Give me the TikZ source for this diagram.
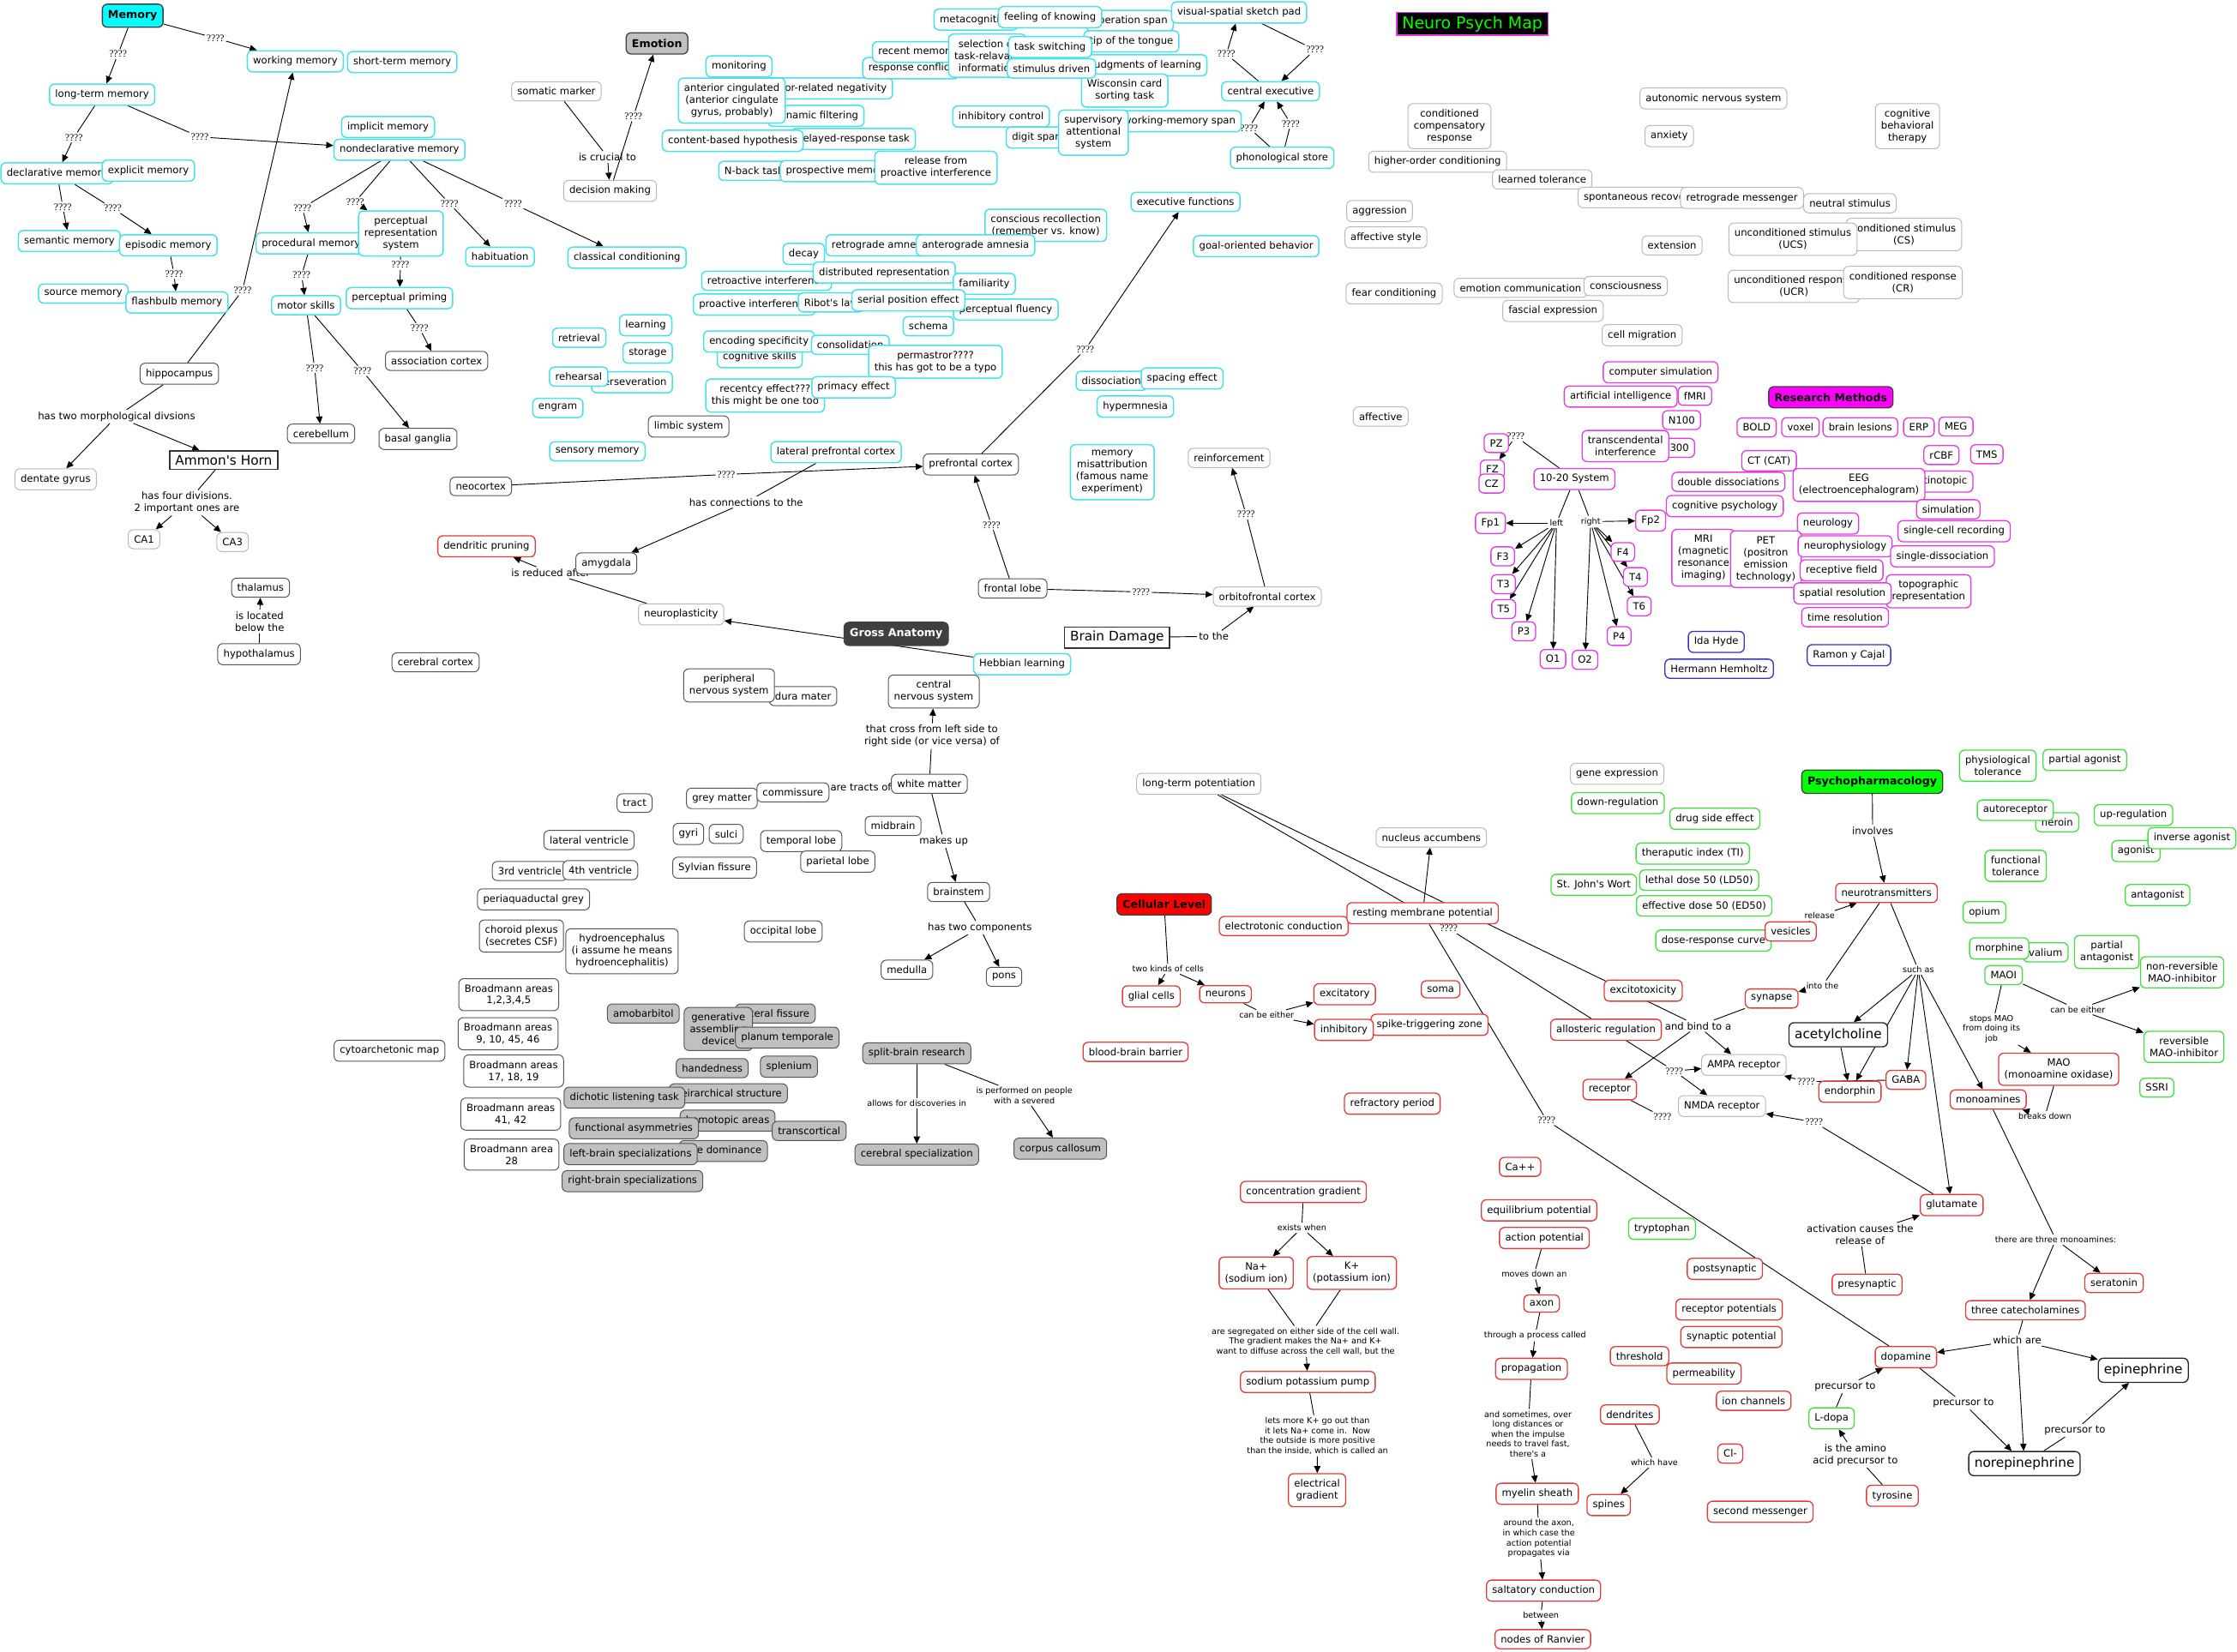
\documentclass[tikz,border=0pt]{standalone}
\usepackage{fontspec}
\usetikzlibrary{arrows.meta,backgrounds}
\newfontfamily\dvf{DejaVu Sans}
\newfontfamily\qfam{Liberation Serif}
\newcommand\nf{\dvf\fontsize{7}{8.4}\selectfont}
\newcommand\smallf{\dvf\fontsize{5.8}{7}\selectfont}
\newcommand\hf{\dvf\bfseries\fontsize{7.6}{9}\selectfont}
\newcommand\bigf{\dvf\fontsize{9.2}{11}\selectfont}
\newcommand\qfs{\qfam\fontsize{7}{8}\selectfont}
\newcommand\titlef{\dvf\fontsize{11.4}{13}\selectfont}
\definecolor{cyc}{RGB}{70,225,235}
\definecolor{lgc}{RGB}{185,185,185}
\definecolor{dkc}{RGB}{85,85,85}
\definecolor{rdc}{RGB}{225,60,60}
\definecolor{grc}{RGB}{70,220,70}
\definecolor{mgc}{RGB}{225,60,225}
\definecolor{blc}{RGB}{50,50,200}
\definecolor{gfc}{RGB}{192,192,192}
\definecolor{hcyan}{RGB}{0,255,255}
\definecolor{hmag}{RGB}{255,0,255}
\definecolor{hgreen}{RGB}{0,255,0}
\definecolor{hred}{RGB}{255,0,0}
\definecolor{hdark}{RGB}{64,64,64}
\newcommand\mylink[3]{\draw[lnk] (#1) -- (#2); \draw[arr] (#2) -- (#3);}
\newcommand\myarr[2]{\draw[arr] (#1) -- (#2);}
\newcommand\myline[2]{\draw[lnk] (#1) -- (#2);}
\tikzset{
 nbox/.style={draw, rounded corners=3.5pt, fill=white, align=center, inner xsep=4pt, inner ysep=4pt, font=\nf, line width=0.6pt},
 ncy/.style={nbox, draw=cyc, line width=0.9pt},
 ngy/.style={nbox, draw=lgc},
 ndk/.style={nbox, draw=dkc},
 nrd/.style={nbox, draw=rdc, line width=0.8pt},
 ngr/.style={nbox, draw=grc, line width=0.8pt},
 nmg/.style={nbox, draw=mgc, line width=0.8pt},
 nbl/.style={nbox, draw=blc, line width=0.8pt},
 ngf/.style={nbox, draw=dkc, fill=gfc},
 nhd/.style={nbox, font=\hf, draw=black!75, line width=0.8pt, inner ysep=4.5pt},
 nsq/.style={nbox, rounded corners=0pt, draw=black!80, line width=1pt, font=\bigf, inner ysep=3pt},
 nbig/.style={nbox, font=\bigf, draw=black!85, line width=0.8pt},
 nlb/.style={font=\nf, align=center, inner sep=1.2pt},
 nsl/.style={font=\smallf, align=center, inner sep=1.2pt},
 nq/.style={font=\qfs, inner sep=1pt},
 arr/.style={-{Triangle[length=5pt,width=4.5pt]}, line width=0.55pt},
 lnk/.style={line width=0.55pt},
}
\begin{document}
\begin{tikzpicture}[x=1pt,y=-1pt]
\path[use as bounding box] (0,0) rectangle (1568,1158);
% ---------------- labels ----------------
\node[nq] (q1) at (151,26.7) {????};
\node[nq] (q2) at (82.7,38) {????};
\node[nq] (q3) at (51.8,96.4) {????};
\node[nq] (q4) at (140,96) {????};
\node[nq] (q5) at (44,145) {????};
\node[nq] (q6) at (79,146) {????};
\node[nq] (q7) at (122,192) {????};
\node[nq] (q8) at (170,203.5) {????};
\node[nq] (q9) at (212,145.7) {????};
\node[nq] (q10) at (249,141.5) {????};
\node[nq] (q11) at (315,142.7) {????};
\node[nq] (q12) at (359.6,142.7) {????};
\node[nq] (q13) at (211.4,193) {????};
\node[nq] (q14) at (280.7,185.8) {????};
\node[nq] (q15) at (294,230) {????};
\node[nq] (q16) at (220.5,258) {????};
\node[nq] (q17) at (254,260) {????};
\node[nlb] (lmorph) at (81.7,292) {has two morphological divsions};
\node[nlb] (lfour) at (131,352.5) {has four divisions.\\2 important ones are};
\node[nlb] (lloc) at (182,435.7) {is located\\below the};
\node[nlb] (lcru) at (425.8,110) {is crucial to};
\node[nq] (q18) at (444,81.5) {????};
\node[nq] (q19) at (859.6,37.9) {????};
\node[nq] (q20) at (921.7,34.9) {????};
\node[nq] (q21) at (875.5,89.7) {????};
\node[nq] (q22) at (904.7,86.7) {????};
\node[nq] (q23) at (760.7,245) {????};
\node[nq] (q24) at (509,332.6) {????};
\node[nlb] (lconn) at (523,352) {has connections to the};
\node[nq] (q25) at (695,368) {????};
\node[nq] (q26) at (799.7,415) {????};
\node[nq] (q27) at (873.4,360.5) {????};
\node[nlb] (ltothe) at (850.8,446.1) {to the};
\node[nlb] (lred) at (386,401.5) {is reduced after};
\node[nlb] (lcross) at (653.2,516) {that cross from left side to\\right side (or vice versa) of};
\node[nlb] (ltract) at (603.4,552) {are tracts of};
\node[nlb] (lmakes) at (661.5,589.6) {makes up};
\node[nlb] (ltwo) at (686.8,650.4) {has two components};
\node[nsl] (lallow) at (642.6,773.7) {allows for discoveries in};
\node[nsl] (lperf) at (718,768) {is performed on people\\with a severed};
\node[nsl] (lkinds) at (818.7,679.3) {two kinds of cells};
\node[nsl] (leither) at (887.8,711.5) {can be either};
\node[nq] (q28) at (1015.5,651) {????};
\node[nq] (q29) at (1173.6,750.8) {????};
\node[nq] (q30) at (1084,785.3) {????};
\node[nq] (q31) at (1165.3,782.8) {????};
\node[nq] (q32) at (1265.9,758.3) {????};
\node[nq] (q33) at (1271.5,786.6) {????};
\node[nq] (q34) at (1062.4,306) {????};
\node[nsl] (lleft) at (1091,366.7) {left};
\node[nsl] (lright) at (1115,365.7) {right};
\node[nlb] (linv) at (1312.6,582.4) {involves};
\node[nsl] (lrel) at (1275.4,642) {release};
\node[nsl] (linto) at (1277.4,691) {into the};
\node[nlb] (lbind) at (1190.3,719.2) {and bind to a};
\node[nsl] (lsuch) at (1344.6,679.8) {such as};
\node[nlb] (lact) at (1303.8,865.4) {activation causes the\\release of};
\node[nsl] (lthree) at (1441,869.1) {there are three monoamines:};
\node[nlb] (lwhich) at (1413.9,939.5) {which are};
\node[nlb] (lpre1) at (1376.2,983.7) {precursor to};
\node[nlb] (lpre2) at (1454.4,1002.8) {precursor to};
\node[nlb] (lpre3) at (1293.3,972) {precursor to};
\node[nlb] (lamino) at (1300.5,1019.9) {is the amino\\acid precursor to};
\node[nsl] (lcbe) at (1456.4,707.7) {can be either};
\node[nsl] (lstops) at (1395.9,721.4) {stops MAO\\from doing its\\job};
\node[nsl] (lbreaks) at (1433.3,782.6) {breaks down};
\node[nsl] (lexists) at (912.5,860.7) {exists when};
\node[nsl] (lseg) at (915.1,940.3) {are segregated on either side of the cell wall.\\The gradient makes the Na+ and K+\\want to diffuse across the cell wall, but the};
\node[nsl] (llets) at (923.5,1006.5) {lets more K+ go out than\\it lets Na+ come in.\ \ Now\\the outside is more positive\\than the inside, which is called an};
\node[nsl] (lmoves) at (1075.4,893.2) {moves down an};
\node[nsl] (lthrough) at (1076,936.3) {through a process called};
\node[nsl] (lsome) at (1071,1005.3) {and sometimes, over\\long distances or\\when the impulse\\needs to travel fast,\\there's a};
\node[nsl] (laround) at (1078.6,1078.6) {around the axon,\\in which case the\\action potential\\propagates via};
\node[nsl] (lbetween) at (1080.1,1132.2) {between};
\node[nsl] (lhave) at (1159.6,1025.3) {which have};
% ---------------- title ----------------
\node[nbox, rounded corners=0pt, fill=black, draw=mgc, line width=1pt, text=hgreen, font=\titlef, inner ysep=2.5pt] (title) at (1032,16.7) {Neuro Psych Map};
% ---------------- memory ----------------
\node[nhd, fill=hcyan] (mem) at (93,11) {Memory};
\node[ncy] (wm) at (207,43) {working memory};
\node[ncy] (stm) at (282,43.5) {short-term memory};
\node[ncy] (ltm) at (71.6,66.3) {long-term memory};
\node[ncy] (imp) at (272,89) {implicit memory};
\node[ncy] (nd) at (280,105) {nondeclarative memory};
\node[ncy] (decl) at (40,121.5) {declarative memory};
\node[ncy] (expl) at (104,119.6) {explicit memory};
\node[ncy] (sem) at (48.6,169) {semantic memory};
\node[ncy] (epis) at (118,172) {episodic memory};
\node[ncy] (src) at (58.4,205.8) {source memory};
\node[ncy] (flash) at (124,212) {flashbulb memory};
\node[ncy] (proc) at (218,170.6) {procedural memory};
\node[ncy] (prs) at (281,163.7) {perceptual\\representation\\system};
\node[ncy] (hab) at (350.5,180) {habituation};
\node[ncy] (cc) at (439.5,180.6) {classical conditioning};
\node[ncy] (motor) at (214.5,214) {motor skills};
\node[ncy] (pp) at (280,209) {perceptual priming};
\node[ndk] (assoc) at (306,253) {association cortex};
\node[ndk] (hippo) at (125.7,262) {hippocampus};
\node[ndk] (cereb) at (225,304) {cerebellum};
\node[ndk] (basal) at (293,307.7) {basal ganglia};
\node[ngy] (dent) at (39,336) {dentate gyrus};
\node[nsq] (ammon) at (156.8,322.6) {Ammon's Horn};
\node[ngy] (ca1) at (101,378) {CA1};
\node[ngy] (ca3) at (163,380) {CA3};
\node[ndk] (thal) at (182.6,412) {thalamus};
\node[ndk] (hypo) at (181.6,458.6) {hypothalamus};
\node[ndk] (cctx) at (305.3,464.3) {cerebral cortex};
% ---------------- emotion ----------------
\node[nhd, fill=gfc] (emo) at (460.5,30.4) {Emotion};
\node[ngy] (som) at (390,64) {somatic marker};
\node[ngy] (dec) at (427.6,133.8) {decision making};
% ---------------- executive cluster ----------------
\node[ncy] (mon) at (518,46.6) {monitoring};
\node[ncy] (ern) at (581,62) {error-related negativity};
\node[ncy] (dynf) at (572,81.2) {dynamic filtering};
\node[ncy] (acc) at (513,70.5) {anterior cingulated\\(anterior cingulate\\gyrus, probably)};
\node[ncy] (drt) at (598,97.4) {delayed-response task};
\node[ncy] (cbh) at (513.6,98.7) {content-based hypothesis};
\node[ncy] (nback) at (528.5,119.8) {N-back task};
\node[ncy] (prosp) at (587,120) {prospective memory};
\node[ncy] (rel) at (656,117.6) {release from\\proactive interference};
\node[ncy] (resp) at (638.5,47.8) {response conflict};
\node[ncy] (recm) at (642.5,36.4) {recent memory};
\node[ncy] (meta) at (684,13.7) {metacognition};
\node[ncy] (opspan) at (792,14.7) {operation span};
\node[ncy] (tip) at (793,29) {tip of the tongue};
\node[ncy] (jol) at (803.5,45.8) {judgments of learning};
\node[ncy] (wcst) at (788.3,63.5) {Wisconsin card\\sorting task};
\node[ncy] (sel) at (692,39) {selection of\\task-relavant\\information};
\node[ncy] (fok) at (736,12) {feeling of knowing};
\node[ncy] (tsw) at (736,33) {task switching};
\node[ncy] (stim) at (737,48) {stimulus driven};
\node[ncy] (wmspan) at (826.7,85) {working-memory span};
\node[ncy] (inh) at (701.7,81.7) {inhibitory control};
\node[ncy] (digit) at (726.6,96.4) {digit span};
\node[ncy] (sas) at (766.4,93) {supervisory\\attentional\\system};
\node[ncy] (vs) at (868.5,8.7) {visual-spatial sketch pad};
\node[ncy] (ce) at (890.6,64) {central executive};
\node[ncy] (ps) at (898.7,110.6) {phonological store};
% ---------------- memory misc ----------------
\node[ncy] (consc) at (733,158) {conscious recollection\\(remember vs. know)};
\node[ncy] (decay) at (563.4,178) {decay};
\node[ncy] (retro) at (617.5,172) {retrograde amnesia};
\node[ncy] (antero) at (683.8,172) {anterograde amnesia};
\node[ncy] (retint) at (537.3,196.8) {retroactive interference};
\node[ncy] (dist) at (619.8,191) {distributed representation};
\node[ncy] (fam) at (689.9,199) {familiarity};
\node[ncy] (proint) at (528.8,213.5) {proactive interference};
\node[ncy] (ribot) at (582.6,212) {Ribot's law};
\node[ncy] (pflu) at (705,217) {perceptual fluency};
\node[ncy] (serial) at (636.7,210.5) {serial position effect};
\node[ncy] (schema) at (650.7,228.7) {schema};
\node[ncy] (cogsk) at (532.5,250.4) {cognitive skills};
\node[ncy] (encsp) at (532,239.4) {encoding specificity};
\node[ncy] (consol) at (596,241.7) {consolidation};
\node[ncy] (perma) at (655.7,253.6) {permastror????\\this has got to be a typo};
\node[ncy] (recen) at (536.3,277.3) {recentcy effect???\\this might be one too};
\node[ncy] (prim) at (598.3,271.5) {primacy effect};
\node[ncy] (learn) at (452.6,228) {learning};
\node[ncy] (retr) at (406,236.7) {retrieval};
\node[ncy] (stor) at (454,247.4) {storage};
\node[ncy] (pers) at (443,268) {perseveration};
\node[ncy] (reh) at (405.6,264) {rehearsal};
\node[ncy] (engr) at (391,286) {engram};
\node[ncy] (sens) at (418.7,316.4) {sensory memory};
\node[ncy] (lpfc) at (586,317) {lateral prefrontal cortex};
\node[ncy] (ef) at (831,141.5) {executive functions};
\node[ncy] (gob) at (880.5,172.6) {goal-oriented behavior};
\node[ncy] (diss) at (779,267) {dissociation};
\node[ncy] (spac) at (828.6,265.3) {spacing effect};
\node[ncy] (hyper) at (795.8,285) {hypermnesia};
\node[ncy] (mmis) at (779.6,331) {memory\\misattribution\\(famous name\\experiment)};
\node[ncy] (hebb) at (716.4,465.6) {Hebbian learning};
\node[ndk] (limb) at (482.7,299) {limbic system};
\node[ndk] (neo) at (337,341) {neocortex};
\node[ndk] (pfc) at (680.5,325.6) {prefrontal cortex};
\node[ndk] (amyg) at (425,395) {amygdala};
\node[ndk] (front) at (709.8,412.5) {frontal lobe};
\node[nsq] (bd) at (783,447) {Brain Damage};
\node[ngy] (reinf) at (861.5,321) {reinforcement};
\node[ngy] (ofc) at (888.3,418.2) {orbitofrontal cortex};
\node[ngy] (np) at (477.4,430.7) {neuroplasticity};
\node[nrd] (dp) at (341,383) {dendritic pruning};
% ---------------- top right gray ----------------
\node[ngy] (ccr) at (1016,88.4) {conditioned\\compensatory\\response};
\node[ngy] (hoc) at (1007.7,113.4) {higher-order conditioning};
\node[ngy] (ltol) at (1081,125.8) {learned tolerance};
\node[ngy] (spont) at (1149,138.5) {spontaneous recovery};
\node[ngy] (rmess) at (1221,138.8) {retrograde messenger};
\node[ngy] (neut) at (1296.7,142.5) {neutral stimulus};
\node[ngy] (ans) at (1201,69) {autonomic nervous system};
\node[ngy] (anx) at (1170,95.4) {anxiety};
\node[ngy] (cbt) at (1337,88.4) {cognitive\\behavioral\\therapy};
\node[ngy] (aggr) at (967,148) {aggression};
\node[ngy] (affst) at (971.4,166.4) {affective style};
\node[ngy] (ext) at (1172,172) {extension};
\node[ngy] (cs) at (1334.5,164.4) {conditioned stimulus\\(CS)};
\node[ngy] (ucs) at (1256.7,167.7) {unconditioned stimulus\\(UCS)};
\node[ngy] (ucr) at (1257.4,200.8) {unconditioned response\\(UCR)};
\node[ngy] (cr) at (1333.8,198) {conditioned response\\(CR)};
\node[ngy] (fear) at (977.2,205.8) {fear conditioning};
\node[ngy] (ecom) at (1065.8,201.8) {emotion communication};
\node[ngy] (consn) at (1139.5,200.5) {consciousness};
\node[ngy] (fasc) at (1088.5,218) {fascial expression};
\node[ngy] (cmig) at (1151,235) {cell migration};
\node[ngy] (affv) at (967.8,292) {affective};
% ---------------- research methods ----------------
\node[nmg] (csim) at (1164,261) {computer simulation};
\node[nmg] (ai) at (1136,278) {artificial intelligence};
\node[nmg] (fmri) at (1188,277.5) {fMRI};
\node[nhd, fill=hmag] (rm) at (1283.3,278.5) {Research Methods};
\node[nmg] (n100) at (1178.7,294.5) {N100};
\node[nmg] (bold) at (1231.3,299.7) {BOLD};
\node[nmg] (voxel) at (1262,299.5) {voxel};
\node[nmg] (blez) at (1304,299.5) {brain lesions};
\node[nmg] (erp) at (1345,299.5) {ERP};
\node[nmg] (meg) at (1371,299) {MEG};
\node[nmg] (p300) at (1175,314) {P300};
\node[nmg] (trans) at (1139.3,312.7) {transcendental\\interference};
\node[nmg] (rcbf) at (1360.8,319) {rCBF};
\node[nmg] (tms) at (1392.6,318.4) {TMS};
\node[nmg] (ct) at (1240,323) {CT (CAT)};
\node[nmg] (ddis) at (1211.5,337.8) {double dissociations};
\node[nmg] (retin) at (1360,337.6) {retinotopic};
\node[nmg] (eeg) at (1303,340) {EEG\\(electroencephalogram)};
\node[nmg] (cogp) at (1209,354.8) {cognitive psychology};
\node[nmg] (simu) at (1365.6,357) {simulation};
\node[nmg] (neur2) at (1281.3,367) {neurology};
\node[nmg] (scr) at (1369.7,372.4) {single-cell recording};
\node[nmg] (mri) at (1194,391) {MRI\\(magnetic\\resonance\\imaging)};
\node[nmg] (pet) at (1237.7,392) {PET\\(positron\\emission\\technology)};
\node[nmg] (nphys) at (1293.3,383) {neurophysiology};
\node[nmg] (sdis) at (1361.5,390) {single-dissociation};
\node[nmg] (rf) at (1290.8,399.8) {receptive field};
\node[nmg] (topo) at (1351.8,414.5) {topographic\\representation};
\node[nmg] (sres) at (1291.5,416) {spatial resolution};
\node[nmg] (tres) at (1293.3,432.7) {time resolution};
\node[nmg] (pz) at (1048.8,310.7) {PZ};
\node[nmg] (fz) at (1046,329) {FZ};
\node[nmg] (cz) at (1045.5,339) {CZ};
\node[nmg] (ten) at (1103.6,335.8) {10-20 System};
\node[nmg] (fp1) at (1044.7,366.7) {Fp1};
\node[nmg] (fp2) at (1157,365) {Fp2};
\node[nmg] (f3) at (1053.3,390) {F3};
\node[nmg] (t3) at (1053.8,409.5) {T3};
\node[nmg] (t5) at (1054,427) {T5};
\node[nmg] (p3) at (1068,442.6) {P3};
\node[nmg] (o1) at (1088.5,462) {O1};
\node[nmg] (o2) at (1111,462.6) {O2};
\node[nmg] (f4) at (1137.5,387) {F4};
\node[nmg] (t4) at (1146.3,404.5) {T4};
\node[nmg] (t6) at (1149,425) {T6};
\node[nmg] (p4) at (1134.9,445.9) {P4};
\node[nbl] (ida) at (1203,450) {Ida Hyde};
\node[nbl] (herm) at (1205,468.8) {Hermann Hemholtz};
\node[nbl] (ramon) at (1296,459.3) {Ramon y Cajal};
% ---------------- gross anatomy ----------------
\node[nhd, fill=hdark, text=white] (ga) at (628.2,444.4) {Gross Anatomy};
\node[ndk] (dura) at (562.9,488) {dura mater};
\node[ndk] (pns) at (511,480.5) {peripheral\\nervous system};
\node[ndk] (cns) at (654.5,484.8) {central\\nervous system};
\node[ndk] (wmat) at (651.4,549.5) {white matter};
\node[ndk] (grey) at (506,559.7) {grey matter};
\node[ndk] (comm) at (555.8,555.5) {commissure};
\node[ndk] (tract) at (444.8,563) {tract};
\node[ndk] (midb) at (626,579) {midbrain};
\node[ndk] (latv) at (412.9,588.9) {lateral ventricle};
\node[ndk] (gyri) at (482.5,584.6) {gyri};
\node[ndk] (sulci) at (509,584.6) {sulci};
\node[ndk] (temp) at (561.6,589.6) {temporal lobe};
\node[ndk] (pari) at (587.2,604) {parietal lobe};
\node[ndk] (v3) at (371.3,610.6) {3rd ventricle};
\node[ndk] (v4) at (420.8,610) {4th ventricle};
\node[ndk] (sylv) at (500.9,608.3) {Sylvian fissure};
\node[ndk] (peri) at (374,630.5) {periaquaductal grey};
\node[ndk] (bstem) at (671.9,625.3) {brainstem};
\node[ndk] (med) at (635.7,679.8) {medulla};
\node[ndk] (pons) at (703.8,684.8) {pons};
\node[ndk] (occ) at (549,653) {occipital lobe};
\node[ndk] (chor) at (365.5,656.2) {choroid plexus\\(secretes CSF)};
\node[ndk] (hydro) at (436,666.9) {hydroencephalus\\(i assume he means\\hydroencephalitis)};
\node[ndk] (ba1) at (356.6,697.3) {Broadmann areas\\1,2,3,4,5};
\node[ndk] (ba2) at (356.1,724.7) {Broadmann areas\\9, 10, 45, 46};
\node[ndk] (ba3) at (360,750.8) {Broadmann areas\\17, 18, 19};
\node[ndk] (ba4) at (358,781) {Broadmann areas\\41, 42};
\node[ndk] (ba5) at (358.6,809.4) {Broadmann area\\28};
\node[ndk] (cyto) at (273,736.6) {cytoarchetonic map};
\node[ngf] (amob) at (450.9,710.5) {amobarbitol};
\node[ngf] (latf) at (543.5,710.5) {lateral fissure};
\node[ngf] (gad) at (503.5,721.4) {generative\\assembling\\device};
\node[ngf] (plan) at (551.8,727.4) {planum temporale};
\node[ngf] (hand) at (499.2,748.8) {handedness};
\node[ngf] (splen) at (553,747.8) {splenium};
\node[ngf] (heir) at (510.5,766.5) {heirarchical structure};
\node[ngf] (dich) at (437.7,769.5) {dichotic listening task};
\node[ngf] (homo) at (510,785.6) {homotopic areas};
\node[ngf] (transc) at (567.2,792.8) {transcortical};
\node[ngf] (funca) at (444.3,791) {functional asymmetries};
\node[ngf] (eyed) at (507,806.9) {eye dominance};
\node[ngf] (lbs) at (442,809.1) {left-brain specializations};
\node[ngf] (rbs) at (443.3,828) {right-brain specializations};
\node[ngf] (split) at (642.6,738.4) {split-brain research};
\node[ngf] (cspec) at (642.6,809.4) {cerebral specialization};
\node[ngf] (corpus) at (743.2,805.2) {corpus callosum};
% ---------------- cellular ----------------
\node[ngy] (ltp) at (840.3,549.5) {long-term potentiation};
\node[ngy] (nacc) at (1003.2,587.1) {nucleus accumbens};
\node[nhd, fill=hred] (cell) at (816,634) {Cellular Level};
\node[nrd] (etc) at (899.8,649.2) {electrotonic conduction};
\node[nrd] (rmp) at (997.2,640.2) {resting membrane potential};
\node[nrd] (glia) at (807,698.5) {glial cells};
\node[nrd] (neur) at (859,697) {neurons};
\node[nrd] (excit) at (942.5,697) {excitatory};
\node[nrd] (spike) at (1002,718.4) {spike-triggering zone};
\node[nrd] (inhib) at (942,722) {inhibitory};
\node[nrd] (soma) at (1009.8,693.5) {soma};
\node[nrd] (bbb) at (796,737.4) {blood-brain barrier};
\node[nrd] (refr) at (975.9,773.7) {refractory period};
\node[nrd] (exto) at (1151.8,694.5) {excitotoxicity};
\node[nrd] (allo) at (1125.7,721.9) {allosteric regulation};
\node[nrd] (rec) at (1128.3,763.8) {receptor};
\node[ngy] (ampa) at (1222.3,746.6) {AMPA receptor};
\node[ngy] (nmda) at (1207,775.4) {NMDA receptor};
% ---------------- psychopharmacology ----------------
\node[ngy] (gene) at (1133.5,542.5) {gene expression};
\node[ngr] (down) at (1134,563) {down-regulation};
\node[ngr] (dse) at (1202,574) {drug side effect};
\node[ngr] (sjw) at (1117.1,620.3) {St. John's Wort};
\node[ngr] (ti) at (1186.5,598.4) {theraputic index (TI)};
\node[ngr] (ld) at (1191,617) {lethal dose 50 (LD50)};
\node[ngr] (ed) at (1194.5,635) {effective dose 50 (ED50)};
\node[ngr] (drc) at (1201,659.4) {dose-response curve};
\node[nrd] (ves) at (1255.1,653) {vesicles};
\node[nhd, fill=hgreen] (psy) at (1312.3,548) {Psychopharmacology};
\node[nrd] (nt) at (1322.3,626) {neurotransmitters};
\node[ngr] (phys) at (1400.3,536.8) {physiological\\tolerance};
\node[ngr] (pag) at (1461.3,532.8) {partial agonist};
\node[ngr] (her) at (1442,576.4) {heroin};
\node[ngr] (auto) at (1412.6,568) {autoreceptor};
\node[ngr] (upr) at (1495.4,571.4) {up-regulation};
\node[ngr] (ago) at (1497.2,596.6) {agonist};
\node[ngr] (inva) at (1536.4,587.6) {inverse agonist};
\node[ngr] (ftol) at (1412.8,607) {functional\\tolerance};
\node[ngr] (anta) at (1512.3,627.5) {antagonist};
\node[ngr] (opium) at (1391,639.5) {opium};
\node[ngr] (val) at (1433.8,667.6) {valium};
\node[ngr] (morph) at (1401.3,664.9) {morphine};
\node[ngr] (pant) at (1476.7,667.4) {partial\\antagonist};
\node[ngr] (maoi) at (1404.4,683.6) {MAOI};
\node[ngr] (nonrev) at (1529.5,681.6) {non-reversible\\MAO-inhibitor};
\node[ngr] (rev) at (1530.8,733.9) {reversible\\MAO-inhibitor};
\node[ngr] (ssri) at (1511.8,762.5) {SSRI};
\node[nrd] (syn) at (1241.8,700) {synapse};
\node[nbig] (ach) at (1288.5,725.4) {acetylcholine};
\node[nrd] (endo) at (1296.7,765.3) {endorphin};
\node[nrd] (gaba) at (1335.9,757) {GABA};
\node[nrd] (mono) at (1393.6,770.8) {monoamines};
\node[nrd] (mao) at (1443,749.6) {MAO\\(monoamine oxidase)};
\node[nrd] (glut) at (1368,844.8) {glutamate};
\node[nrd] (pre) at (1308.7,900.6) {presynaptic};
\node[nrd] (sero) at (1481.8,899.4) {seratonin};
\node[nrd] (tcat) at (1419.7,918.5) {three catecholamines};
\node[nrd] (dopa) at (1335.9,951.4) {dopamine};
\node[nbig] (epin) at (1502.3,960.6) {epinephrine};
\node[nbig] (nore) at (1419,1026) {norepinephrine};
\node[ngr] (ldopa) at (1283.8,994.3) {L-dopa};
\node[nrd] (tyr) at (1326.4,1048.6) {tyrosine};
\node[ngr] (tryp) at (1165,861.4) {tryptophan};
\node[nrd] (post) at (1209,889.5) {postsynaptic};
\node[nrd] (rpot) at (1212,918) {receptor potentials};
\node[nrd] (spot) at (1213.6,937.3) {synaptic potential};
\node[nrd] (thr) at (1149.2,950.7) {threshold};
\node[nrd] (perm) at (1194.4,962.9) {permeability};
\node[nrd] (ionc) at (1229.2,982) {ion channels};
\node[nrd] (dend) at (1142.4,991.6) {dendrites};
\node[nrd] (spines) at (1127.6,1055.1) {spines};
\node[nrd] (cl) at (1212.8,1019) {Cl-};
\node[nrd] (secm) at (1233.8,1059.8) {second messenger};
\node[nrd] (ca) at (1065.5,818) {Ca++};
\node[nrd] (eqp) at (1078.8,848.5) {equilibrium potential};
\node[nrd] (ap) at (1082.5,867.9) {action potential};
\node[nrd] (axon) at (1080.6,913.8) {axon};
\node[nrd] (prop) at (1073.4,959.6) {propagation};
\node[nrd] (myel) at (1077.5,1047.2) {myelin sheath};
\node[nrd] (salt) at (1081.9,1115.1) {saltatory conduction};
\node[nrd] (nodes) at (1081.4,1149.1) {nodes of Ranvier};
\node[nrd] (conc) at (913.6,835.6) {concentration gradient};
\node[nrd] (naion) at (880.5,892.4) {Na+\\(sodium ion)};
\node[nrd] (kion) at (947.5,892.4) {K+\\(potassium ion)};
\node[nrd] (spp) at (916.7,968.8) {sodium potassium pump};
\node[nrd] (egrad) at (923.2,1044.7) {electrical\\gradient};
% ---------------- connectors ----------------
\begin{scope}[on background layer]
\fill[white] (0,0) rectangle (1568,1158);
\mylink{mem}{q1}{wm}
\mylink{mem}{q2}{ltm}
\mylink{ltm}{q3}{decl}
\mylink{ltm}{q4}{nd}
\mylink{decl}{q5}{sem}
\mylink{decl}{q6}{epis}
\mylink{epis}{q7}{flash}
\mylink{hippo}{q8}{wm}
\mylink{nd}{q9}{proc}
\mylink{nd}{q10}{prs}
\mylink{nd}{q11}{hab}
\mylink{nd}{q12}{cc}
\mylink{proc}{q13}{motor}
\mylink{prs}{q14}{pp}
\mylink{pp}{q15}{assoc}
\mylink{motor}{q16}{cereb}
\mylink{motor}{q17}{basal}
\mylink{hippo}{lmorph}{dent}
\myarr{lmorph}{ammon}
\mylink{ammon}{lfour}{ca1}
\myarr{lfour}{ca3}
\mylink{hypo}{lloc}{thal}
\mylink{som}{lcru}{dec}
\mylink{dec}{q18}{emo}
\mylink{ce}{q19}{vs}
\mylink{vs}{q20}{ce}
\mylink{ps}{q21}{ce}
\mylink{ps}{q22}{ce}
\mylink{pfc}{q23}{ef}
\mylink{neo}{q24}{pfc}
\mylink{lpfc}{lconn}{amyg}
\mylink{front}{q25}{pfc}
\mylink{front}{q26}{ofc}
\mylink{ofc}{q27}{reinf}
\mylink{bd}{ltothe}{ofc}
\mylink{np}{lred}{dp}
\myarr{hebb}{np}
\mylink{wmat}{lcross}{cns}
\mylink{comm}{ltract}{wmat}
\mylink{wmat}{lmakes}{bstem}
\mylink{bstem}{ltwo}{med}
\myarr{ltwo}{pons}
\mylink{split}{lallow}{cspec}
\mylink{split}{lperf}{corpus}
\mylink{cell}{lkinds}{glia}
\myarr{lkinds}{neur}
\mylink{neur}{leither}{excit}
\myarr{leither}{inhib}
\myline{ltp}{q28}
\myline{q28}{q29}
\myarr{q29}{ampa}
\myarr{q29}{nmda}
\myline{ltp}{lbind}
\myarr{rmp}{nacc}
\myline{rmp}{q30}
\myline{q30}{dopa}
\myline{rec}{q31}
\mylink{psy}{linv}{nt}
\mylink{ves}{lrel}{nt}
\mylink{nt}{linto}{syn}
\myline{syn}{lbind}
\myarr{lbind}{rec}
\myarr{lbind}{ampa}
\myline{nt}{lsuch}
\myarr{lsuch}{ach}
\myarr{lsuch}{endo}
\myarr{lsuch}{gaba}
\myarr{lsuch}{glut}
\myarr{lsuch}{mono}
\myarr{ach}{endo}
\mylink{gaba}{q32}{ampa}
\mylink{glut}{q33}{nmda}
\mylink{pre}{lact}{glut}
\mylink{mono}{lthree}{tcat}
\myarr{lthree}{sero}
\mylink{tcat}{lwhich}{dopa}
\myarr{lwhich}{epin}
\myarr{lwhich}{nore}
\mylink{dopa}{lpre1}{nore}
\mylink{nore}{lpre2}{epin}
\mylink{ldopa}{lpre3}{dopa}
\mylink{tyr}{lamino}{ldopa}
\mylink{maoi}{lcbe}{nonrev}
\myarr{lcbe}{rev}
\mylink{maoi}{lstops}{mao}
\mylink{mao}{lbreaks}{mono}
\mylink{conc}{lexists}{naion}
\myarr{lexists}{kion}
\myline{naion}{lseg}
\myline{kion}{lseg}
\myarr{lseg}{spp}
\mylink{spp}{llets}{egrad}
\mylink{ap}{lmoves}{axon}
\mylink{axon}{lthrough}{prop}
\mylink{prop}{lsome}{myel}
\mylink{myel}{laround}{salt}
\mylink{salt}{lbetween}{nodes}
\mylink{dend}{lhave}{spines}
\mylink{ten}{q34}{fz}
\myline{ten}{lleft}
\myarr{lleft}{fp1}
\myarr{lleft}{f3}
\myarr{lleft}{t3}
\myarr{lleft}{t5}
\myarr{lleft}{p3}
\myarr{lleft}{o1}
\myline{ten}{lright}
\myarr{lright}{fp2}
\myarr{lright}{f4}
\myarr{lright}{t4}
\myarr{lright}{t6}
\myarr{lright}{p4}
\myarr{lright}{o2}
\end{scope}
\end{tikzpicture}
\end{document}
